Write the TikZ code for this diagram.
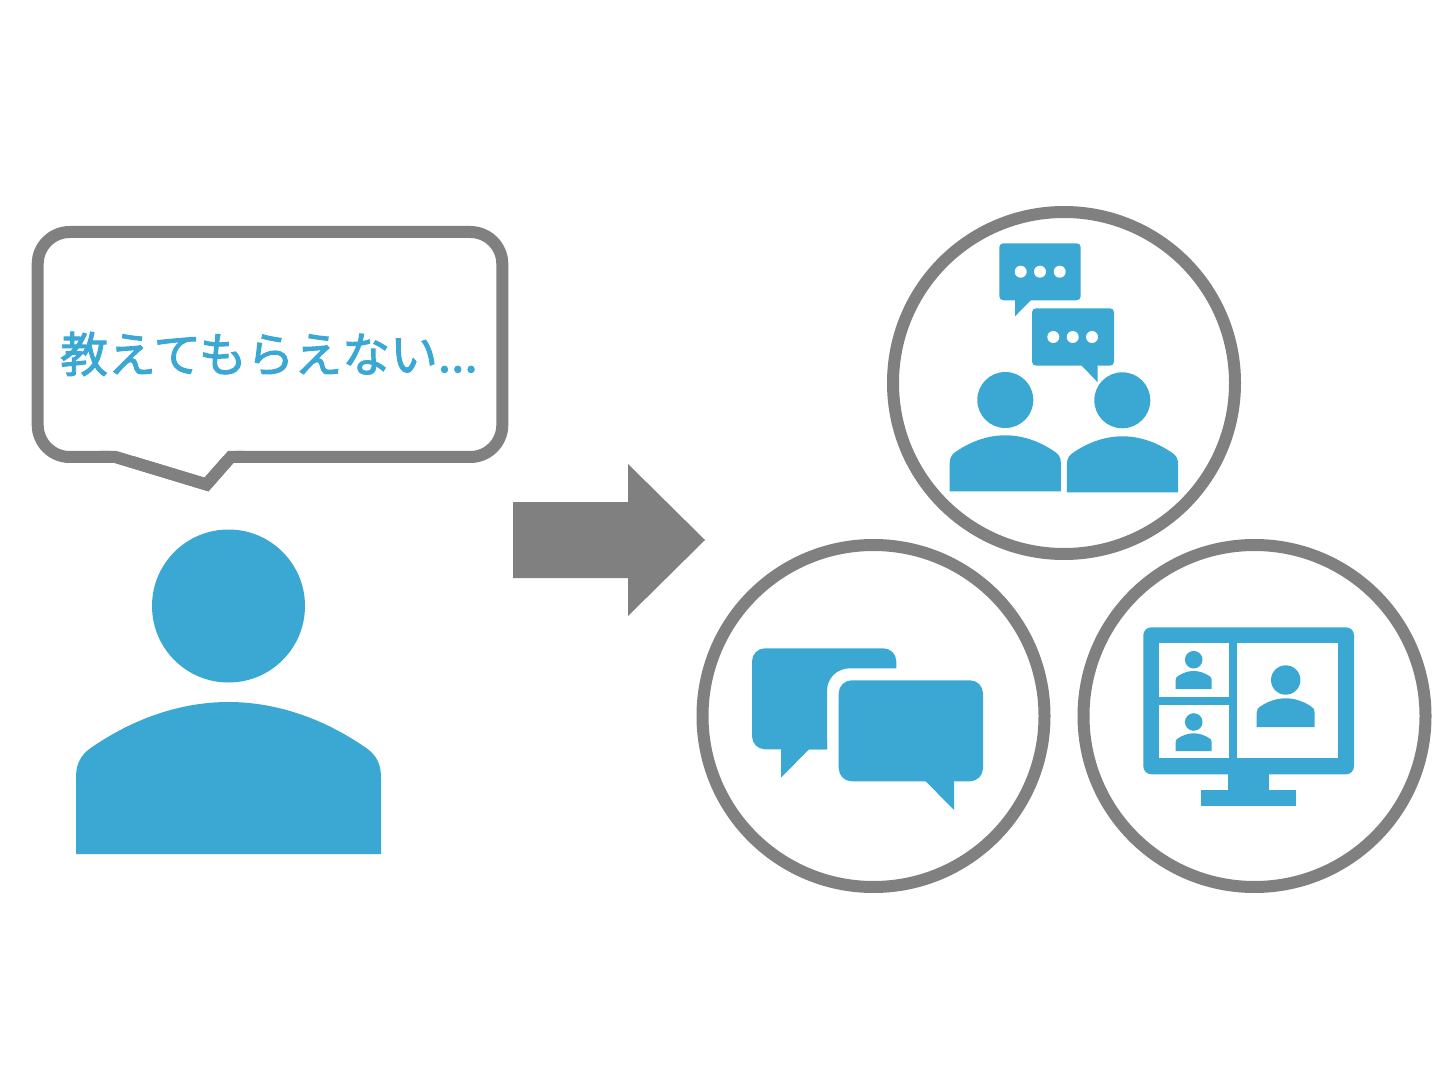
\documentclass[tikz,border=0pt]{standalone}
\usepackage{fontspec}
\newfontfamily\jpfont[FakeBold=2]{Noto Sans CJK JP}
\definecolor{iconblue}{HTML}{3AA8D3}
\definecolor{ringgray}{HTML}{808080}
\newcommand{\personicon}[7]{% headx heady headr bodycx bodytop halfwidth height
  \fill[iconblue] (#1,#2) circle[radius=#3];
  \begin{scope}[shift={(#4,#5)},xscale=#6/100,yscale=#7/100]
    \fill[iconblue] (-100,100) -- (-100,50) .. controls (-100,38) and (-95,33) .. (-87,28)
      .. controls (-60,10) and (-30,0) .. (0,0)
      .. controls (30,0) and (60,10) .. (87,28)
      .. controls (95,33) and (100,38) .. (100,50) -- (100,100) -- cycle;
  \end{scope}}
\tikzset{
  ring/.style={draw=ringgray,line width=6pt,fill=white},
  bluefill/.style={fill=iconblue,rounded corners=2pt},
  chatfill/.style={fill=iconblue,rounded corners=6.5pt},
  whitepanel/.style={fill=white},
  dotmark/.style={fill=white}
}
\begin{document}
\begin{tikzpicture}[x=0.5pt,y=-0.5pt]
\useasboundingbox (0,0) rectangle (1440,1080);
\fill[white] (0,0) rectangle (1440,1080);

% speech bubble
\draw[draw=ringgray,line width=6pt,fill=white,miter limit=10]
  (115.7,457) -- (206.5,484.5) -- (230.7,457)
  [rounded corners=16pt] -- (502.3,457) -- (502.3,232) -- (37.7,232) -- (37.7,457)
  -- (115.7,457);
\fill[white] (110,440) rectangle (235,456);
\draw[draw=ringgray,line width=6pt,fill=none,miter limit=10,line join=miter]
  (100,457) -- (115.7,457) -- (206.5,484.5) -- (230.7,457) -- (245,457);
\node[inner sep=0pt,anchor=center,text=iconblue,font=\jpfont\fontsize{23.9}{28}\selectfont] (label) at (269,354)
  {教えてもらえない...};

% person
\personicon{228.5}{606}{76.5}{228.5}{702}{152.5}{152}

% arrow
\fill[ringgray] (513,502) -- (628,502) -- (628,464) -- (705,540) -- (628,616) -- (628,578) -- (513,578) -- cycle;

% rings
\draw[ring] (1064,383) circle[radius=171];
\draw[ring] (873.5,716) circle[radius=171];
\draw[ring] (1254.5,716) circle[radius=171];

% top icon
\fill[iconblue] (1015,295) -- (1015,316.3) -- (1031,300) -- (1031,295) -- cycle;
\fill[bluefill] (999.3,243.3) rectangle (1080.7,300.3);
\fill[dotmark] (1020.7,271.7) circle[radius=6] (1040,271.7) circle[radius=6] (1059.7,271.7) circle[radius=6];
\fill[iconblue] (1081.7,360) -- (1081.7,365.7) -- (1097.7,382.3) -- (1097.7,360) -- cycle;
\fill[bluefill] (1032,308.3) rectangle (1114,365.7);
\fill[dotmark] (1053.3,337) circle[radius=6] (1072.7,337) circle[radius=6] (1092,337) circle[radius=6];
\personicon{1005.3}{400}{28}{1005.3}{435.3}{55.6}{56}
\personicon{1122.3}{400.3}{28}{1122.5}{436.3}{55.6}{56}

% chat icon
\fill[iconblue] (781,740) -- (781,777.7) -- (809,749.3) -- (827,749.3) -- (827,740) -- cycle;
\fill[chatfill] (752,648.3) -- (896.3,648.3) [sharp corners] -- (896.3,668.3) -- (850,668.3)
  .. controls (837,668.3) and (827,678) .. (827,691) -- (827,749.3) [rounded corners=6.5pt] -- (752,749.3) -- cycle;
\fill[chatfill] (838.7,680.3) rectangle (983,781.3);
\fill[iconblue] (925.7,775) -- (925.7,781.3) -- (954,810) -- (954,775) -- cycle;

% monitor icon
\fill[iconblue,rounded corners=4pt] (1143.3,627.3) rectangle (1354,774.3);
\fill[iconblue] (1227.7,770) rectangle (1269.3,791);
\fill[iconblue] (1201.3,790.3) rectangle (1295.7,805.7);
\fill[whitepanel] (1158.7,643.3) rectangle (1228.7,697.3);
\fill[whitepanel] (1158.7,704.7) rectangle (1228.7,758.3);
\fill[whitepanel] (1237,643.3) rectangle (1338.3,758.3);
\personicon{1193.7}{659.7}{8.8}{1193.7}{671}{18}{18}
\personicon{1193.7}{722}{8.8}{1193.7}{733.3}{18}{17.7}
\personicon{1285.7}{680}{14.7}{1285.7}{698.3}{29}{28.7}
\end{tikzpicture}
\end{document}
